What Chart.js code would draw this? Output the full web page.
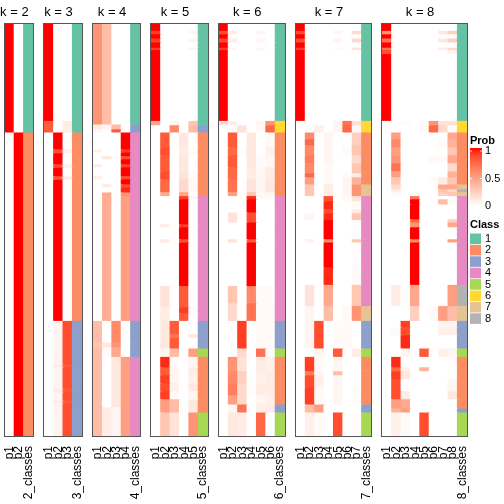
<!DOCTYPE html>
<html>
<head>
<meta charset="utf-8">
<script src="https://cdn.jsdelivr.net/npm/chart.js@4.4.0/dist/chart.umd.min.js"></script>
<style>
  html, body { margin: 0; padding: 0; background: #fff; }
  #wrap { width: 504px; height: 504px; }
</style>
</head>
<body>
<div id="wrap"><canvas id="chart" width="504" height="504"></canvas></div>
<script>
// Data //

var kValues = [2, 3, 4, 5, 6, 7, 8];
var totalRows = 103;
var probTicks = [1, 0.5, 0];
var classIds = [1, 2, 3, 4, 5, 6, 7, 8];

// each row block: [end row, class, p1, p2, ...]
var k2Rows = [
  [27.3, 1, 1, 0],
  [103, 2, 0, 1]
];

var k3Rows = [
  [24.4, 1, 1, 0, 0],
  [27.3, 1, 0.8, 0, 0.1],
  [31.5, 2, 0, 1, 0],
  [32.5, 2, 0, 0.85, 0.08],
  [35.25, 2, 0, 1, 0],
  [36.1, 2, 0, 0.85, 0.08],
  [38.25, 2, 0, 1, 0],
  [39.1, 2, 0, 0.8, 0.1],
  [74.4, 2, 0, 1, 0],
  [85.25, 3, 0, 0.06, 0.85],
  [86, 3, 0, 0.1, 0.8],
  [91.25, 3, 0, 0.06, 0.85],
  [92.25, 3, 0, 0.1, 0.8],
  [94.25, 3, 0, 0.06, 0.85],
  [95, 3, 0, 0.1, 0.8],
  [103, 3, 0, 0.06, 0.85]
];

var k4Rows = [
  [25.3, 1, 0.55, 0.35, 0, 0],
  [26.5, 3, 0.1, 0.05, 0.35, 0],
  [27.3, 3, 0.05, 0, 0.8, 0],
  [31.5, 4, 0, 0, 0, 1],
  [32.3, 4, 0.08, 0, 0, 0.9],
  [33.2, 4, 0, 0, 0, 1],
  [34, 4, 0, 0.12, 0.03, 0.85],
  [35.25, 4, 0, 0, 0, 1],
  [36, 4, 0.1, 0, 0, 0.88],
  [38.2, 4, 0, 0, 0, 1],
  [39, 4, 0.08, 0, 0, 0.85],
  [40.25, 4, 0, 0, 0, 1],
  [41, 4, 0, 0.12, 0, 0.85],
  [42.3, 4, 0, 0, 0, 0.95],
  [43.2, 4, 0, 0.45, 0, 0.55],
  [74.4, 4, 0, 0.42, 0, 0.5],
  [79.8, 3, 0.35, 0, 0.6, 0],
  [81, 3, 0.3, 0.12, 0.55, 0],
  [83.4, 3, 0.35, 0.03, 0.45, 0],
  [96, 4, 0.35, 0, 0.12, 0.5],
  [103, 4, 0.35, 0.1, 0.05, 0.5]
];

var k5Rows = [
  [1.9, 1, 1, 0, 0, 0, 0],
  [2.75, 1, 0.9, 0, 0, 0, 0.05],
  [3.8, 1, 1, 0, 0, 0, 0],
  [4.8, 1, 0.9, 0, 0, 0, 0.05],
  [6.1, 1, 1, 0, 0, 0, 0],
  [6.7, 1, 0.9, 0, 0, 0, 0.05],
  [24.4, 1, 1, 0, 0, 0, 0],
  [25.5, 1, 0.45, 0, 0.05, 0, 0.3],
  [27.3, 3, 0, 0, 0.6, 0, 0.35],
  [31, 2, 0, 0.8, 0, 0.12, 0],
  [33, 2, 0, 0.85, 0, 0.1, 0.02],
  [37, 2, 0, 0.8, 0, 0.12, 0],
  [39, 2, 0, 0.85, 0, 0.15, 0.02],
  [42.2, 2, 0, 0.75, 0, 0.2, 0.03],
  [43.2, 2, 0, 0.45, 0, 0.45, 0],
  [44, 4, 0, 0, 0, 0.9, 0.05],
  [50.25, 4, 0, 0, 0, 1, 0],
  [51, 4, 0, 0.1, 0, 0.9, 0],
  [54, 4, 0, 0, 0, 1, 0],
  [54.8, 4, 0, 0.12, 0, 0.85, 0],
  [65.7, 4, 0, 0, 0, 1, 0],
  [71, 4, 0, 0.15, 0, 0.8, 0],
  [72.5, 4, 0, 0.1, 0, 0.9, 0.03],
  [74.4, 4, 0, 0.1, 0, 0.8, 0],
  [77.7, 3, 0, 0.12, 0.8, 0, 0],
  [78.6, 3, 0, 0.12, 0.7, 0, 0.12],
  [81.3, 3, 0, 0.12, 0.8, 0, 0],
  [83.4, 5, 0, 0.05, 0.35, 0, 0.5],
  [86, 2, 0, 0.95, 0.02, 0, 0.05],
  [88, 2, 0, 0.8, 0.06, 0, 0.1],
  [90, 2, 0, 0.9, 0.05, 0, 0.08],
  [92, 2, 0, 0.85, 0.08, 0, 0.12],
  [94, 2, 0, 0.9, 0.03, 0, 0.05],
  [97.3, 2, 0, 0.5, 0.35, 0, 0.12],
  [103, 5, 0, 0.3, 0.15, 0, 0.55]
];

var k6Rows = [
  [1.9, 1, 1, 0, 0, 0, 0, 0],
  [2.75, 1, 0.85, 0.1, 0, 0, 0.05, 0],
  [3.8, 1, 1, 0, 0, 0, 0, 0],
  [4.8, 1, 0.85, 0.1, 0, 0, 0.05, 0],
  [6.1, 1, 1, 0, 0, 0, 0, 0],
  [6.7, 1, 0.9, 0.05, 0, 0, 0.05, 0],
  [24.4, 1, 1, 0, 0, 0, 0, 0],
  [25.5, 6, 0.15, 0.1, 0, 0, 0.05, 0.55],
  [27.3, 6, 0, 0, 0.15, 0, 0.03, 0.75],
  [31, 2, 0, 0.8, 0, 0.12, 0, 0.03],
  [33, 2, 0, 0.75, 0.02, 0.12, 0, 0.08],
  [36, 2, 0, 0.8, 0, 0.12, 0.02, 0.04],
  [39, 2, 0, 0.75, 0, 0.1, 0.04, 0.1],
  [42.2, 2, 0, 0.7, 0, 0.15, 0.05, 0.12],
  [43.2, 2, 0, 0.5, 0, 0.3, 0.03, 0.05],
  [44, 4, 0, 0, 0, 0.95, 0.03, 0.02],
  [47.3, 4, 0, 0, 0, 1, 0, 0],
  [49.8, 4, 0, 0.15, 0, 0.85, 0, 0],
  [54, 4, 0, 0, 0, 1, 0, 0],
  [54.8, 4, 0, 0.15, 0, 0.8, 0, 0],
  [65.7, 4, 0, 0, 0, 1, 0, 0],
  [70, 4, 0, 0.3, 0, 0.6, 0.03, 0.02],
  [74.4, 4, 0, 0.2, 0, 0.7, 0.03, 0.03],
  [81.3, 3, 0, 0, 0.9, 0, 0.03, 0.03],
  [83.4, 5, 0, 0, 0.2, 0, 0.7, 0.02],
  [87, 2, 0, 0.55, 0.15, 0, 0.1, 0.08],
  [90, 2, 0, 0.6, 0.25, 0, 0.08, 0.1],
  [93, 2, 0, 0.65, 0.2, 0.02, 0.1, 0.1],
  [95.3, 2, 0, 0.5, 0.2, 0, 0.05, 0.08],
  [97.3, 3, 0, 0.05, 0.7, 0, 0.08, 0.1],
  [103, 5, 0, 0.12, 0.1, 0, 0.75, 0]
];

var k7Rows = [
  [1.9, 1, 1, 0, 0, 0, 0, 0, 0],
  [2.75, 1, 0.85, 0, 0, 0, 0.05, 0, 0.2],
  [3.8, 1, 1, 0, 0, 0, 0, 0, 0],
  [4.8, 1, 0.85, 0, 0, 0, 0.05, 0, 0.2],
  [6.1, 1, 1, 0, 0, 0, 0, 0, 0],
  [6.7, 1, 0.9, 0, 0, 0, 0.03, 0, 0.15],
  [24.4, 1, 1, 0, 0, 0, 0, 0, 0],
  [25.5, 6, 0, 0, 0, 0, 0.05, 0.7, 0.15],
  [27.3, 6, 0, 0, 0.08, 0, 0.05, 0.75, 0.05],
  [29, 2, 0, 0.6, 0, 0.05, 0, 0, 0.25],
  [30.5, 2, 0, 0.75, 0, 0.05, 0, 0, 0.25],
  [33, 2, 0, 0.6, 0, 0.05, 0, 0.02, 0.3],
  [35, 2, 0, 0.65, 0, 0.05, 0, 0, 0.2],
  [37.5, 2, 0, 0.6, 0, 0.03, 0, 0, 0.3],
  [38.5, 2, 0, 0.75, 0, 0.03, 0, 0.03, 0.1],
  [40.3, 2, 0, 0.5, 0, 0.03, 0, 0.05, 0.4],
  [43.2, 7, 0, 0.3, 0, 0.1, 0, 0.05, 0.55],
  [44.5, 4, 0, 0, 0, 0.85, 0, 0.03, 0.15],
  [46.5, 4, 0, 0, 0, 0.95, 0, 0, 0.03],
  [47.5, 4, 0, 0, 0, 0.85, 0, 0, 0.1],
  [49.2, 4, 0, 0.05, 0, 0.95, 0, 0, 0.3],
  [54, 4, 0, 0, 0, 1, 0, 0, 0.02],
  [54.8, 4, 0, 0.08, 0, 0.6, 0, 0, 0.3],
  [61, 4, 0, 0, 0, 1, 0, 0, 0.02],
  [65.4, 4, 0, 0, 0, 0.95, 0, 0, 0.03],
  [70.7, 4, 0, 0.15, 0, 0.45, 0, 0, 0.3],
  [74.4, 7, 0, 0.05, 0, 0.35, 0, 0.03, 0.55],
  [81.3, 3, 0, 0.05, 0.85, 0, 0.02, 0.03, 0],
  [83.4, 5, 0, 0, 0.05, 0, 0.8, 0, 0.1],
  [87, 2, 0, 0.9, 0.03, 0, 0.05, 0, 0],
  [88, 2, 0, 0.65, 0.05, 0, 0.35, 0, 0],
  [91, 2, 0, 0.85, 0.08, 0, 0.05, 0, 0],
  [95.3, 2, 0, 0.9, 0.03, 0, 0.05, 0, 0.02],
  [97.3, 3, 0, 0.35, 0.5, 0, 0, 0, 0],
  [103, 5, 0, 0.08, 0.03, 0, 0.85, 0, 0.02]
];

var k8Rows = [
  [1.9, 1, 1, 0, 0, 0, 0, 0, 0, 0],
  [2.75, 1, 0.55, 0, 0, 0, 0, 0, 0.12, 0.25],
  [3.8, 1, 1, 0, 0, 0, 0, 0, 0, 0],
  [4.8, 1, 0.7, 0, 0, 0, 0, 0, 0.12, 0.25],
  [6.1, 1, 1, 0, 0, 0, 0, 0, 0, 0],
  [6.7, 1, 0.7, 0, 0, 0, 0, 0, 0.1, 0.2],
  [7.7, 1, 0.85, 0, 0, 0, 0, 0, 0, 0.05],
  [24.4, 1, 1, 0, 0, 0, 0, 0, 0, 0],
  [25.5, 6, 0, 0, 0.02, 0, 0.03, 0.55, 0.15, 0.15],
  [27.3, 6, 0, 0, 0, 0, 0.03, 0.75, 0.2, 0.02],
  [29, 2, 0, 0.5, 0, 0, 0, 0, 0, 0.45],
  [31, 2, 0, 0.6, 0, 0, 0, 0, 0.03, 0.4],
  [33, 2, 0, 0.5, 0, 0, 0, 0, 0, 0.3],
  [35, 2, 0, 0.55, 0, 0, 0, 0.03, 0.03, 0.45],
  [37, 2, 0, 0.7, 0, 0, 0, 0, 0, 0.2],
  [38.5, 2, 0, 0.5, 0, 0, 0, 0, 0, 0.4],
  [40.3, 2, 0, 0.3, 0, 0, 0, 0.03, 0.1, 0.3],
  [41.5, 7, 0, 0.2, 0, 0, 0, 0, 0.45, 0.45],
  [42.2, 8, 0, 0.1, 0, 0, 0, 0, 0.3, 0.2],
  [43.2, 7, 0, 0.03, 0, 0.03, 0, 0, 0.25, 0.3],
  [44, 4, 0, 0, 0, 0.7, 0, 0, 0, 0],
  [45.3, 4, 0, 0, 0, 1, 0, 0, 0.35, 0.03],
  [49, 4, 0, 0, 0, 1, 0, 0, 0, 0],
  [49.8, 4, 0, 0, 0, 0.75, 0, 0, 0, 0.25],
  [51, 4, 0, 0, 0, 0.55, 0, 0, 0, 0.45],
  [54, 4, 0, 0, 0, 1, 0, 0, 0, 0],
  [54.8, 4, 0, 0, 0, 0.6, 0, 0, 0, 0.5],
  [65.4, 4, 0, 0, 0, 1, 0, 0, 0, 0],
  [70.7, 8, 0, 0.1, 0, 0.45, 0, 0, 0, 0.5],
  [74.4, 7, 0, 0, 0, 0.25, 0, 0.03, 0.5, 0.35],
  [76, 3, 0, 0, 0.9, 0, 0, 0, 0.05, 0.05],
  [78, 3, 0, 0.03, 0.85, 0, 0, 0, 0.08, 0.08],
  [81.3, 3, 0, 0, 0.95, 0, 0, 0, 0, 0],
  [83.4, 5, 0, 0, 0.05, 0, 0.8, 0, 0.08, 0.05],
  [86, 2, 0, 0.95, 0, 0, 0, 0, 0, 0.02],
  [87, 2, 0, 0.75, 0.08, 0, 0.4, 0, 0, 0],
  [89, 2, 0, 0.9, 0.12, 0, 0, 0, 0, 0],
  [92, 2, 0, 0.85, 0, 0, 0, 0, 0, 0.05],
  [94, 2, 0, 0.85, 0.1, 0, 0, 0, 0, 0.12],
  [96.3, 2, 0, 0.5, 0.45, 0, 0, 0, 0, 0],
  [97.3, 3, 0, 0.4, 0.5, 0, 0, 0, 0, 0],
  [103, 5, 0, 0.08, 0.03, 0, 0.85, 0, 0, 0]
];

var panelRows = [k2Rows, k3Rows, k4Rows, k5Rows, k6Rows, k7Rows, k8Rows];

// Styles //

var classColors = ['#66C2A5', '#FC8D62', '#8DA0CB', '#E78AC3', '#A6D854', '#FFD92F', '#E5C494', '#B3B3B3'];
var FONT = "'Liberation Sans', Arial, sans-serif";

// white -> red in LAB space
function probColor(p) {
  var L = 100 + (53.24 - 100) * p, a = 80.09 * p, b = 67.2 * p;
  var fy = (L + 16) / 116, fx = fy + a / 500, fz = fy - b / 200;
  function finv(t) { return t * t * t > 0.008856 ? t * t * t : (t - 16 / 116) / 7.787; }
  var X = 0.95047 * finv(fx), Y = finv(fy), Z = 1.08883 * finv(fz);
  var rgb = [
    3.2406 * X - 1.5372 * Y - 0.4986 * Z,
    -0.9689 * X + 1.8758 * Y + 0.0415 * Z,
    0.0557 * X - 0.2040 * Y + 1.0570 * Z
  ].map(function(v) {
    v = v <= 0.0031308 ? 12.92 * v : 1.055 * Math.pow(v, 1 / 2.4) - 0.055;
    return Math.round(Math.max(0, Math.min(1, v)) * 255);
  });
  return 'rgb(' + rgb.join(',') + ')';
}

// Layout of columns //

var GAP = 1.2;
var colCenters = [], colLabels = [], panelBox = [];
var off = 0;
kValues.forEach(function(k) {
  for (var j = 0; j < k; j++) {
    colCenters.push(off + j + 0.5);
    colLabels.push('p' + (j + 1));
  }
  colCenters.push(off + k + 0.5);
  colLabels.push(k + '_classes');
  panelBox.push({k: k, start: off, end: off + k + 1});
  off += k + 1 + GAP;
});
var xMax = off - GAP;

// Datasets //

var datasets = kValues.map(function(k, pi) {
  var box = panelBox[pi];
  var data = [], colors = [];
  var prev = 0;
  panelRows[pi].forEach(function(r) {
    var end = r[0];
    for (var j = 0; j < k; j++) {
      data.push({x: box.start + j + 0.5, y: [prev, end]});
      colors.push(probColor(r[2 + j]));
    }
    data.push({x: box.start + k + 0.5, y: [prev, end]});
    colors.push(classColors[r[1] - 1]);
    prev = end;
  });
  return {
    label: 'k = ' + k,
    data: data,
    backgroundColor: colors,
    borderWidth: 0,
    grouped: false,
    barPercentage: 1,
    categoryPercentage: 1,
    inflateAmount: 0.7
  };
});

// Panel frames, titles and legends //

var decorPlugin = {
  id: 'decor',
  afterDatasetsDraw: function(chart) {
    var ctx = chart.ctx, xs = chart.scales.x, area = chart.chartArea;
    ctx.save();
    panelBox.forEach(function(b) {
      var l = xs.getPixelForValue(b.start), r = xs.getPixelForValue(b.end);
      ctx.strokeStyle = '#555';
      ctx.lineWidth = 1;
      ctx.strokeRect(Math.round(l) - 0.5, area.top - 0.5, Math.round(r) - Math.round(l) + 1, area.bottom - area.top + 1);
      var c = xs.getPixelForValue(b.start + b.k / 2);
      ctx.fillStyle = '#000';
      ctx.font = '13px ' + FONT;
      ctx.textAlign = 'center';
      ctx.textBaseline = 'alphabetic';
      ctx.fillText('k = ' + b.k, c, 16);
    });

    // Prob legend
    var lx = 470, gTop = 148, gBot = 206, gW = 12;
    ctx.textAlign = 'left';
    ctx.font = 'bold 11px ' + FONT;
    ctx.fillText('Prob', lx, 144);
    var grad = ctx.createLinearGradient(0, gTop, 0, gBot);
    for (var t = 0; t <= 10; t++) grad.addColorStop(t / 10, probColor(1 - t / 10));
    ctx.fillStyle = grad;
    ctx.fillRect(lx, gTop, gW, gBot - gTop);
    ctx.font = '11px ' + FONT;
    ctx.textBaseline = 'middle';
    probTicks.forEach(function(v) {
      var y = gTop + 3 + (1 - v) * (gBot - gTop - 3);
      ctx.strokeStyle = 'rgba(255,255,255,0.8)';
      ctx.beginPath();
      ctx.moveTo(lx, y); ctx.lineTo(lx + 2, y);
      ctx.moveTo(lx + gW - 2, y); ctx.lineTo(lx + gW, y);
      ctx.stroke();
      ctx.fillStyle = '#000';
      ctx.fillText(String(v), lx + 15, y);
    });

    // Class legend
    ctx.textBaseline = 'alphabetic';
    ctx.font = 'bold 11px ' + FONT;
    ctx.fillText('Class', lx, 228);
    ctx.font = '11px ' + FONT;
    ctx.textBaseline = 'middle';
    classIds.forEach(function(id, i) {
      var y = 233.5 + i * 11.4;
      ctx.fillStyle = classColors[id - 1];
      ctx.fillRect(lx, y, 11, 10.6);
      ctx.fillStyle = '#000';
      ctx.fillText(String(id), lx + 15, y + 5.5);
    });
    ctx.restore();
  }
};

var chart = new Chart(document.getElementById('chart'), {
  type: 'bar',
  data: { datasets: datasets },
  options: {
    responsive: false,
    animation: false,
    layout: { padding: { left: 5, right: 37, top: 24, bottom: 0 } },
    plugins: { legend: { display: false }, tooltip: { enabled: false } },
    scales: {
      x: {
        type: 'linear',
        min: 0,
        max: xMax,
        offset: false,
        grid: { display: false },
        border: { display: false },
        afterBuildTicks: function(s) {
          s.ticks = colCenters.map(function(v) { return {value: v}; });
        },
        afterFit: function(s) { s.height = 68; },
        ticks: {
          autoSkip: false,
          minRotation: 90,
          maxRotation: 90,
          padding: 2,
          color: '#000',
          font: { size: 12, family: FONT },
          callback: function(v, i) { return colLabels[i]; }
        }
      },
      y: {
        type: 'linear',
        min: 0,
        max: totalRows,
        reverse: true,
        display: false
      }
    }
  },
  plugins: [decorPlugin]
});
</script>
</body>
</html>
